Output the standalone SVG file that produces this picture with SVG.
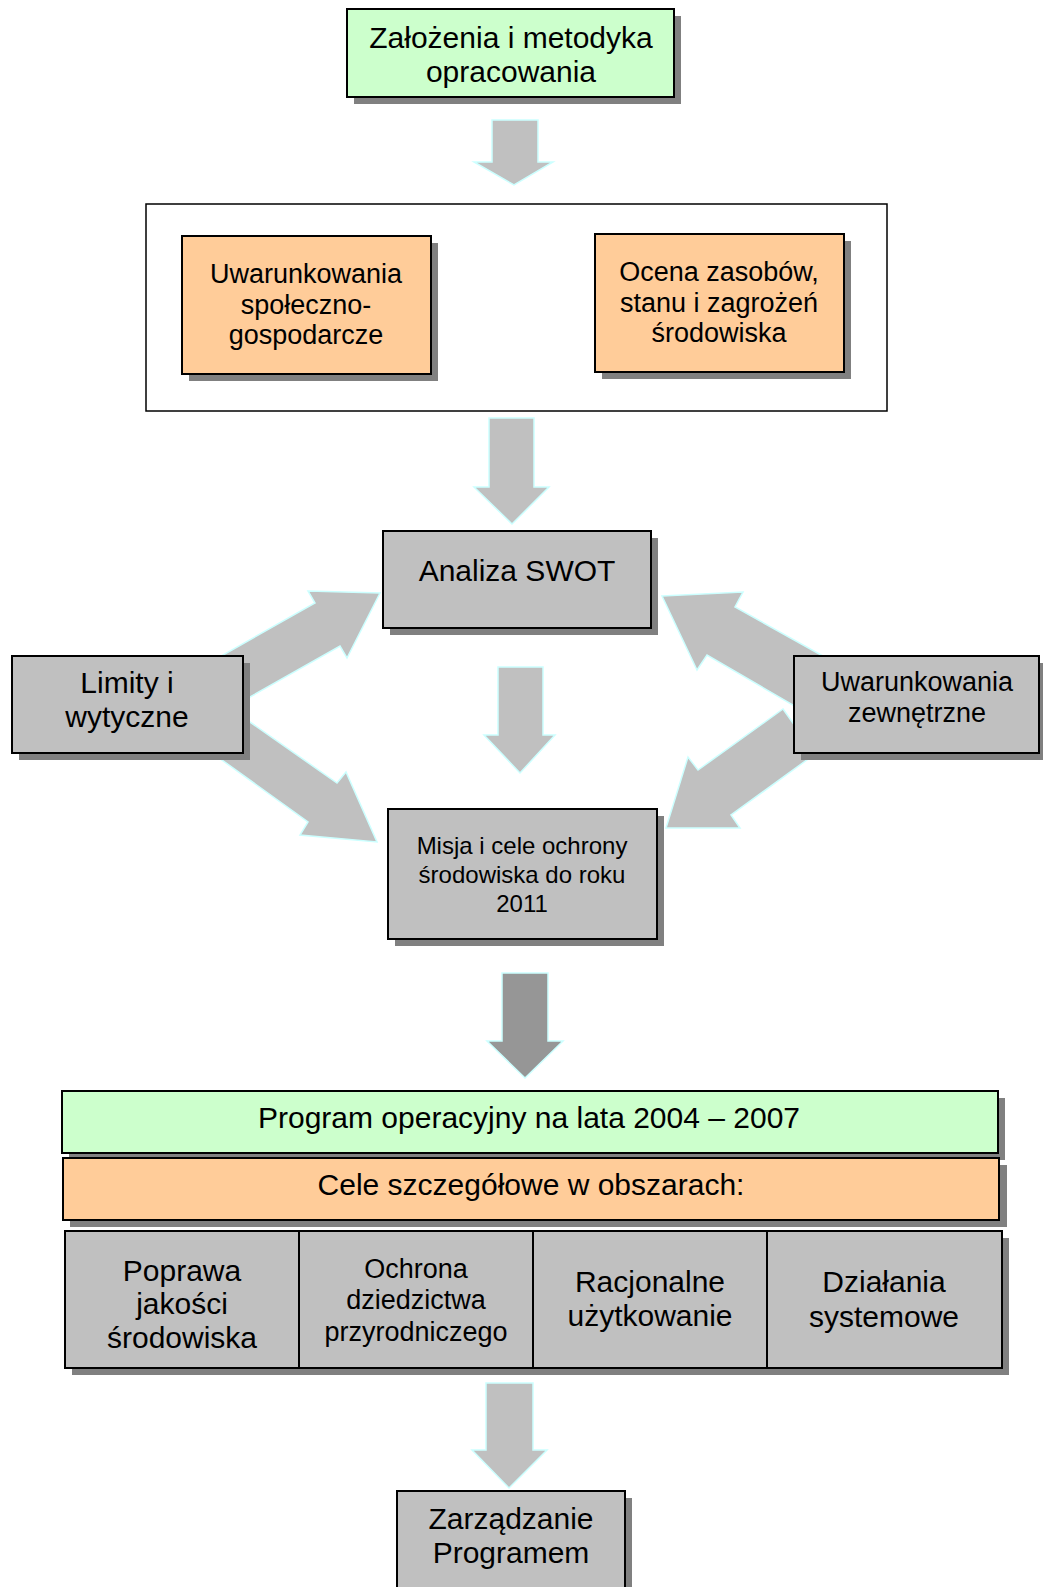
<svg xmlns="http://www.w3.org/2000/svg" width="1043" height="1587" viewBox="0 0 1043 1587">
<style>
text{font-family:"Liberation Sans",Arial,sans-serif;fill:#000;text-anchor:middle}
.box{stroke:#000;stroke-width:2}
.sh{fill:#808080}
.green{fill:#ccffcc}
.orange{fill:#ffcc99}
.gray{fill:#c0c0c0}
.arr{fill:#c0c0c0;stroke:#ccffff;stroke-width:1.5;stroke-linejoin:miter}
.darr{fill:#969696;stroke:#ccffff;stroke-width:1.5}
.f30{font-size:30px}
.f27{font-size:27px}
.f24{font-size:24px}
</style>
<rect width="1043" height="1587" fill="#fff"/>
<g id="connectors">
<polygon class="arr" points="492,120 538,120 538,162 553,162 514,185 474,162 492,162"/>
<polygon class="arr" points="489,418 534,418 534,487 549,487 512,524 474,487 489,487"/>
<polygon class="arr" points="498,667 543,667 543,735 555,735 520,773 484,735 498,735"/>
<polygon class="darr" points="502,973 548,973 548,1041 563,1041 525,1078 487,1041 502,1041"/>
<polygon class="arr" points="486,1383 533,1383 533,1450 547,1450 509,1488 472,1450 486,1450"/>
<polygon class="arr" points="380,593 347,658 340,646 220,714 200,668 315,603 308,591"/>
<polygon class="arr" points="190,680 337,783 346,772 377,842 300,835 308,822 165,719"/>
<polygon class="arr" points="662,596 743,592 735,607 857,675 853,740 707,655 697,670"/>
<polygon class="arr" points="783,709 815,754 731,815 740,828 666,828 688,757 698,770"/>
</g>
<g id="node-zalozenia">
<rect class="sh" x="354" y="16" width="327" height="88"/>
<rect class="box green" x="347" y="9" width="327" height="88"/>
<text class="f30" x="511" y="48">Założenia i metodyka</text>
<text class="f30" x="511" y="82">opracowania</text>
</g>
<g id="node-container">
<rect x="146" y="204" width="741" height="207" fill="#fff" stroke="#000" stroke-width="1.5"/>
</g>
<g id="node-uwarunkowania-sg">
<rect class="sh" x="189" y="243" width="249" height="138"/>
<rect class="box orange" x="182" y="236" width="249" height="138"/>
<text class="f27" x="306" y="283">Uwarunkowania</text>
<text class="f27" x="306" y="314">społeczno-</text>
<text class="f27" x="306" y="344">gospodarcze</text>
</g>
<g id="node-ocena">
<rect class="sh" x="602" y="241" width="249" height="138"/>
<rect class="box orange" x="595" y="234" width="249" height="138"/>
<text class="f27" x="719" y="281">Ocena zasobów,</text>
<text class="f27" x="719" y="312">stanu i zagrożeń</text>
<text class="f27" x="719" y="342">środowiska</text>
</g>
<g id="node-swot">
<rect class="sh" x="390" y="538" width="268" height="97"/>
<rect class="box gray" x="383" y="531" width="268" height="97"/>
<text class="f30" x="517" y="581">Analiza SWOT</text>
</g>
<g id="node-limity">
<rect class="sh" x="19" y="663" width="231" height="97"/>
<rect class="box gray" x="12" y="656" width="231" height="97"/>
<text class="f30" x="127" y="693">Limity i</text>
<text class="f30" x="127" y="727">wytyczne</text>
</g>
<g id="node-zewnetrzne">
<rect class="sh" x="801" y="663" width="245" height="97"/>
<rect class="box gray" x="794" y="656" width="245" height="97"/>
<text class="f27" x="917" y="691">Uwarunkowania</text>
<text class="f27" x="917" y="722">zewnętrzne</text>
</g>
<g id="node-misja">
<rect class="sh" x="395" y="816" width="269" height="130"/>
<rect class="box gray" x="388" y="809" width="269" height="130"/>
<text class="f24" x="522" y="854">Misja i cele ochrony</text>
<text class="f24" x="522" y="883">środowiska do roku</text>
<text class="f24" x="522" y="912">2011</text>
</g>
<g id="node-program">
<rect class="sh" x="69" y="1098" width="936" height="62"/>
<rect class="box green" x="62" y="1091" width="936" height="62"/>
<text class="f30" x="529" y="1128">Program operacyjny na lata 2004 – 2007</text>
</g>
<g id="node-cele">
<rect class="sh" x="70" y="1165" width="937" height="62"/>
<rect class="box orange" x="63" y="1158" width="936" height="62"/>
<text class="f30" x="531" y="1195">Cele szczegółowe w obszarach:</text>
</g>
<g id="node-obszary">
<rect class="sh" x="72" y="1238" width="937" height="137"/>
<rect class="box gray" x="65" y="1231" width="937" height="137"/>
<line x1="299" y1="1231" x2="299" y2="1368" stroke="#000" stroke-width="2"/>
<line x1="533" y1="1231" x2="533" y2="1368" stroke="#000" stroke-width="2"/>
<line x1="767" y1="1231" x2="767" y2="1368" stroke="#000" stroke-width="2"/>
</g>
<g id="node-poprawa">
<text class="f30" x="182" y="1281">Poprawa</text>
<text class="f30" x="182" y="1314">jakości</text>
<text class="f30" x="182" y="1348">środowiska</text>
</g>
<g id="node-ochrona">
<text class="f27" x="416" y="1278">Ochrona</text>
<text class="f27" x="416" y="1309">dziedzictwa</text>
<text class="f27" x="416" y="1341">przyrodniczego</text>
</g>
<g id="node-racjonalne">
<text class="f30" x="650" y="1292">Racjonalne</text>
<text class="f30" x="650" y="1326">użytkowanie</text>
</g>
<g id="node-dzialania">
<text class="f30" x="884" y="1292">Działania</text>
<text class="f30" x="884" y="1327">systemowe</text>
</g>
<g id="node-zarzadzanie">
<rect class="sh" x="404" y="1498" width="228" height="110"/>
<rect class="box gray" x="397" y="1491" width="228" height="110"/>
<text class="f30" x="511" y="1529">Zarządzanie</text>
<text class="f30" x="511" y="1563">Programem</text>
</g>
</svg>
